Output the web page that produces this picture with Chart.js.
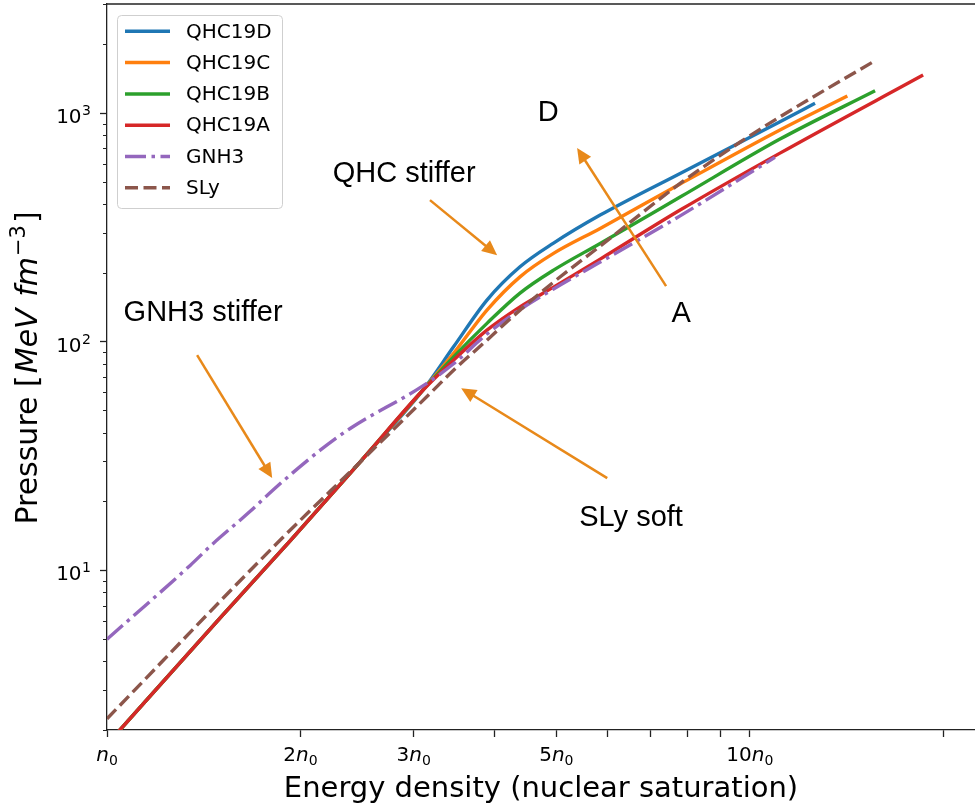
<!DOCTYPE html>
<html>
<head>
<meta charset="utf-8">
<script src="https://cdn.jsdelivr.net/npm/chart.js@4.4.0/dist/chart.umd.min.js"></script>
<style>
  html, body { margin: 0; padding: 0; background: #fff; overflow: hidden; }
</style>
</head>
<body>
<canvas id="myChart" width="975" height="808"></canvas>
<script>
// energy density in units of n0, pressure in MeV fm^-3
const names = ['QHC19D', 'QHC19C', 'QHC19B', 'QHC19A', 'GNH3', 'SLy']
const colors = ['#1f77b4', '#ff7f0e', '#2ca02c', '#d62728', '#9467bd', '#8c564b']
const dashes = [[], [], [], [], [21, 5.5, 3.5, 5.5], [13, 5.5]]

const xD = [1.0, 1.5, 1.93, 2.5, 3.1, 3.46, 3.9, 4.39, 4.95, 5.85, 7.79, 11.14, 12.63]
const pD = [1.73, 6.19, 13.5, 30.7, 61.3, 94.9, 152, 212.5, 269.8, 357.8, 544.6, 916, 1103]
const xC = [1.0, 1.5, 1.93, 2.5, 3.1, 3.46, 3.9, 4.39, 4.95, 5.85, 7.79, 11.14, 14.18]
const pC = [1.73, 6.19, 13.5, 30.7, 61.3, 88.8, 137.4, 192.1, 243.2, 312.9, 489, 843, 1187]
const xB = [1.0, 1.5, 1.93, 2.5, 3.1, 3.46, 3.9, 4.39, 4.95, 5.85, 7.79, 11.14, 15.66]
const pB = [1.73, 6.19, 13.5, 30.7, 61.3, 85.8, 120.2, 163.1, 205.5, 269, 429, 769.5, 1252]
const xA = [1.0, 1.5, 1.93, 2.5, 3.1, 3.46, 3.9, 4.39, 4.95, 5.85, 7.79, 11.14, 18.6]
const pA = [1.73, 6.19, 13.5, 30.7, 61.3, 83, 112.3, 142, 173.2, 229.6, 376.3, 668, 1467]
const xGNH3 = [1.0, 1.347, 1.463, 1.67, 1.811, 2.146, 2.389, 3.1, 3.46, 3.9, 4.39, 4.95, 5.85, 7.79, 10.94]
const pGNH3 = [4.99, 10.5, 13.1, 18.1, 22.4, 33.5, 41.7, 64, 80, 108, 138, 170, 222.9, 355, 640]
const xSLy = [1.0, 1.837, 2.5, 3.18, 3.46, 3.9, 4.39, 4.95, 5.85, 7.79, 9.65, 11.14, 15.56]
const pSLy = [2.24, 13.09, 30.5, 59.3, 75, 101.5, 137.4, 182.1, 261.8, 492, 745, 963, 1677]

const seriesX = [xD, xC, xB, xA, xGNH3, xSLy]
const seriesP = [pD, pC, pB, pA, pGNH3, pSLy]

// axes
const xMin = 1, xMax = 22.4
const yMin = 2, yMax = 3000
const xTickVals = [1, 2, 3, 4, 5, 6, 7, 8, 9, 10, 20]
const xLabelVals = [1, 2, 3, 5, 10]
const xLabelCoef = ['', '2', '3', '5', '10']
const yTickVals = [10, 100, 1000]
const yTickExp = ['1', '2', '3']

// annotations (data coords; text y is the baseline)
const noteText = ['QHC stiffer', 'D', 'GNH3 stiffer', 'A', 'SLy soft']
const noteX = [2.899, 4.856, 1.411, 7.816, 6.535]
const noteY = [499, 923, 122.9, 121.7, 15.58]
const arrowFromX = [3.18, 7.408, 1.381, 6.0]
const arrowFromY = [416, 175, 87.3, 25.3]
const arrowToX = [4.045, 5.386, 1.807, 3.556]
const arrowToY = [239, 703, 25.3, 62.6]

const yMinor = []
;[1, 10, 100, 1000].forEach(d => {
  for (let k = 2; k <= 9; k++) if (d * k <= yMax && d * k >= yMin) yMinor.push(d * k)
})

const INK = '#222'

const framePlugin = {
  id: 'frame',
  afterDraw(chart) {
    const ctx = chart.ctx, a = chart.chartArea, ys = chart.scales.y
    ctx.save()
    ctx.strokeStyle = INK
    ctx.lineWidth = 1.3
    ctx.beginPath()
    ctx.moveTo(a.left, a.top)
    ctx.lineTo(a.right, a.top)
    ctx.stroke()
    ctx.lineWidth = 1
    yMinor.forEach(v => {
      const py = Math.round(ys.getPixelForValue(v)) + 0.5
      ctx.beginPath()
      ctx.moveTo(a.left - 4, py)
      ctx.lineTo(a.left, py)
      ctx.stroke()
    })
    ctx.restore()
  }
}

const tickLabelPlugin = {
  id: 'tickLabels',
  afterDraw(chart) {
    const ctx = chart.ctx, xs = chart.scales.x, ys = chart.scales.y
    ctx.save()
    ctx.fillStyle = '#000'
    ctx.textBaseline = 'alphabetic'
    // y: 10^k
    yTickVals.forEach((v, i) => {
      const py = ys.getPixelForValue(v)
      ctx.font = '14px "DejaVu Sans"'
      const ws = ctx.measureText(yTickExp[i]).width
      const sx = 91 - ws
      ctx.textAlign = 'left'
      ctx.fillText(yTickExp[i], sx, py + 2)
      ctx.font = '20px "DejaVu Sans"'
      ctx.textAlign = 'right'
      ctx.fillText('10', sx - 0.5, py + 10)
    })
    // x: c n_0
    xLabelVals.forEach((v, i) => {
      const px = xs.getPixelForValue(v)
      ctx.font = '20px "DejaVu Sans"'
      const w1 = ctx.measureText(xLabelCoef[i]).width
      ctx.font = 'italic 20px "DejaVu Sans"'
      const w2 = ctx.measureText('n').width
      ctx.font = '14px "DejaVu Sans"'
      const w3 = ctx.measureText('0').width
      let x0 = px - (w1 + w2 + w3) / 2
      ctx.textAlign = 'left'
      ctx.font = '20px "DejaVu Sans"'
      ctx.fillText(xLabelCoef[i], x0, 761)
      x0 += w1
      ctx.font = 'italic 20px "DejaVu Sans"'
      ctx.fillText('n', x0, 761)
      x0 += w2
      ctx.font = '14px "DejaVu Sans"'
      ctx.fillText('0', x0, 765)
    })
    // y title: Pressure [MeV fm^-3]
    const parts = [
      ['Pressure [', '30px "DejaVu Sans"', 0, 2],
      ['MeV', 'italic 30px "DejaVu Sans"', 0, 0],
      [' ', '30px "DejaVu Sans"', 0, 2],
      ['fm', 'italic 30px "DejaVu Sans"', 0, 1],
      ['\u22123', '21px "DejaVu Sans"', -12, 2],
      [']', '30px "DejaVu Sans"', 0, 0]
    ]
    let total = 0
    parts.forEach(p => { ctx.font = p[1]; total += ctx.measureText(p[0]).width + p[3] })
    ctx.translate(37, 368)
    ctx.rotate(-Math.PI / 2)
    let tx = -total / 2
    ctx.textAlign = 'left'
    parts.forEach(p => {
      ctx.font = p[1]
      ctx.fillText(p[0], tx, p[2])
      tx += ctx.measureText(p[0]).width + p[3]
    })
    ctx.restore()
  }
}

const notePlugin = {
  id: 'notes',
  afterDatasetsDraw(chart) {
    const ctx = chart.ctx, xs = chart.scales.x, ys = chart.scales.y
    ctx.save()
    ctx.fillStyle = '#000'
    ctx.font = '29px "Liberation Sans", Arial, sans-serif'
    ctx.textAlign = 'center'
    ctx.textBaseline = 'alphabetic'
    noteText.forEach((t, i) => {
      ctx.fillText(t, xs.getPixelForValue(noteX[i]), ys.getPixelForValue(noteY[i]))
    })
    const orange = '#e8891a'
    ctx.strokeStyle = orange
    ctx.fillStyle = orange
    ctx.lineWidth = 2.5
    arrowFromX.forEach((_, i) => {
      const x1 = xs.getPixelForValue(arrowFromX[i]), y1 = ys.getPixelForValue(arrowFromY[i])
      const x2 = xs.getPixelForValue(arrowToX[i]), y2 = ys.getPixelForValue(arrowToY[i])
      const len = Math.hypot(x2 - x1, y2 - y1)
      const ux = (x2 - x1) / len, uy = (y2 - y1) / len
      const hl = 15, hw = 7
      const bx = x2 - ux * hl, by = y2 - uy * hl
      ctx.beginPath()
      ctx.moveTo(x1, y1)
      ctx.lineTo(bx + ux * 2, by + uy * 2)
      ctx.stroke()
      ctx.beginPath()
      ctx.moveTo(x2, y2)
      ctx.lineTo(bx - uy * hw, by + ux * hw)
      ctx.lineTo(bx + uy * hw, by - ux * hw)
      ctx.closePath()
      ctx.fill()
    })
    ctx.restore()
  }
}

const legendPlugin = {
  id: 'legendBox',
  afterDraw(chart) {
    const ctx = chart.ctx
    ctx.save()
    ctx.fillStyle = 'rgba(255,255,255,0.8)'
    ctx.strokeStyle = '#cfcfcf'
    ctx.lineWidth = 1
    ctx.beginPath()
    ctx.roundRect(117.5, 15.5, 165, 193, 4)
    ctx.fill()
    ctx.stroke()
    chart.data.datasets.forEach((ds, i) => {
      const y = 31.3 + 31.3 * i
      ctx.strokeStyle = ds.borderColor
      ctx.lineWidth = 3.5
      ctx.setLineDash(ds.borderDash)
      ctx.beginPath()
      ctx.moveTo(125, y)
      ctx.lineTo(170, y)
      ctx.stroke()
      ctx.setLineDash([])
      ctx.fillStyle = '#000'
      ctx.font = '20px "DejaVu Sans"'
      ctx.textAlign = 'left'
      ctx.textBaseline = 'middle'
      ctx.fillText(ds.label, 186, y + 1)
    })
    ctx.restore()
  }
}

const datasets = names.map((n, i) => ({
  label: n,
  data: seriesX[i].map((x, j) => ({ x: x, y: seriesP[i][j] })),
  borderColor: colors[i],
  backgroundColor: colors[i],
  borderWidth: 3.4,
  borderDash: dashes[i],
  borderCapStyle: 'butt',
  showLine: true,
  pointRadius: 0,
  cubicInterpolationMode: 'monotone',
  order: names.length - i
}))

new Chart(document.getElementById('myChart'), {
  type: 'scatter',
  data: { datasets: datasets },
  options: {
    responsive: false,
    animation: false,
    devicePixelRatio: 1,
    layout: { padding: { top: 4, right: 0, left: 0, bottom: 0 } },
    plugins: { legend: { display: false }, tooltip: { enabled: false } },
    scales: {
      x: {
        type: 'logarithmic',
        min: xMin,
        max: xMax,
        afterBuildTicks: s => { s.ticks = xTickVals.map(v => ({ value: v })) },
        afterFit: s => { s.height = 78 },
        ticks: { display: false },
        grid: { drawOnChartArea: false, drawTicks: true, tickLength: 7, tickWidth: 1.3, color: INK },
        border: { display: true, color: INK, width: 1.3 },
        title: {
          display: true,
          text: 'Energy density (nuclear saturation)',
          color: '#000',
          font: { family: 'DejaVu Sans', size: 29 },
          padding: { top: 0, bottom: 1 }
        }
      },
      y: {
        type: 'logarithmic',
        min: yMin,
        max: yMax,
        afterBuildTicks: s => { s.ticks = yTickVals.map(v => ({ value: v })) },
        afterFit: s => { s.width = 107 },
        ticks: { display: false },
        grid: { drawOnChartArea: false, drawTicks: true, tickLength: 7, tickWidth: 1.3, color: INK },
        border: { display: true, color: INK, width: 1.3 }
      }
    }
  },
  plugins: [framePlugin, notePlugin, tickLabelPlugin, legendPlugin]
})
</script>
</body>
</html>
